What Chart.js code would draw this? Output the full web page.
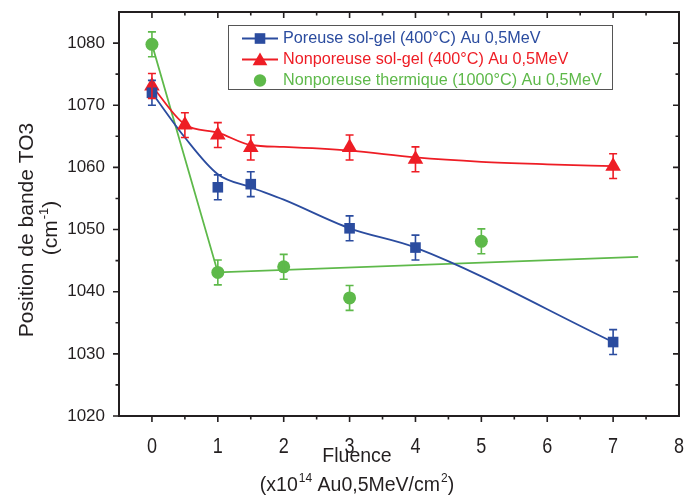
<!DOCTYPE html>
<html><head><meta charset="utf-8">
<script src="https://cdn.jsdelivr.net/npm/chart.js@4/dist/chart.umd.min.js"></script>
<style>html,body{margin:0;padding:0;background:#fff}#wrap{width:684px;height:496px;position:relative}</style>
</head><body><div id="wrap"><canvas id="c" width="684" height="496"></canvas></div>
<script>
// ---- data ----
const fluenceBlue = [0, 1, 1.5, 3, 4, 7];
const posBlue     = [1072, 1056.8, 1057.3, 1050.2, 1047.1, 1031.9];
const errBlue     = [2, 2, 2, 2, 2, 2];
const fluenceRed  = [0, 0.5, 1, 1.5, 3, 4, 7];
const posRed      = [1073.1, 1066.8, 1065.2, 1063.2, 1063.2, 1061.3, 1060.2];
const errRed      = [2, 2, 2, 2, 2, 2, 2];
const fluenceGreen = [0, 1, 2, 3, 5];
const posGreen     = [1079.8, 1043.1, 1044, 1039, 1048.1];
const errGreen     = [2, 2, 2, 2, 2];
// fitted curves as drawn in the reference
const fitBlueX = [0, 0.5, 1, 1.5, 2, 3, 4, 7];
const fitBlueY = [1072, 1064.8, 1058.9, 1056.8, 1054.8, 1050.2, 1047.1, 1031.9];
const fitRedX  = [0, 0.5, 1, 1.5, 2, 3, 4, 5, 6, 7];
const fitRedY  = [1073.1, 1066.9, 1065.6, 1063.6, 1063.3, 1062.7, 1061.6, 1060.9, 1060.5, 1060.2];
const fitGreenX = [0, 1, 7.38];
const fitGreenY = [1079.8, 1043.1, 1045.6];
const xTicks = [0, 1, 2, 3, 4, 5, 6, 7, 8];
const yTicks = [1020, 1030, 1040, 1050, 1060, 1070, 1080];
const seriesNames = ['Poreuse sol-gel (400°C) Au 0,5MeV', 'Nonporeuse sol-gel (400°C) Au 0,5MeV', 'Nonporeuse thermique (1000°C) Au 0,5MeV'];

const BLUE = '#2b4c9f', RED = '#ee1d25', GREEN = '#5eb94a', INK = '#231f20';
const FONT = '"Liberation Sans", Arial, sans-serif';
const pts = (xs, ys) => xs.map((x, i) => ({x, y: ys[i]}));

const errorBars = {
  id: 'errorBars',
  afterDatasetsDraw(chart) {
    const {ctx, scales: {x, y}} = chart;
    chart.data.datasets.forEach((ds) => {
      if (!ds.errors) return;
      ctx.save();
      ctx.strokeStyle = ds.borderColor; ctx.lineWidth = 1.6;
      ds.data.forEach((p, j) => {
        const px = x.getPixelForValue(p.x);
        const t = y.getPixelForValue(p.y + ds.errors[j]);
        const b = y.getPixelForValue(p.y - ds.errors[j]);
        ctx.beginPath();
        ctx.moveTo(px, t); ctx.lineTo(px, b);
        ctx.moveTo(px - 4, t); ctx.lineTo(px + 4, t);
        ctx.moveTo(px - 4, b); ctx.lineTo(px + 4, b);
        ctx.stroke();
      });
      ctx.restore();
    });
  }
};

const frame = {
  id: 'frame',
  afterDatasetsDraw(chart) {
    const {ctx, chartArea: a, scales: {x, y}} = chart;
    ctx.save();
    ctx.strokeStyle = INK; ctx.lineWidth = 2;
    ctx.strokeRect(a.left, a.top, a.right - a.left, a.bottom - a.top);
    ctx.lineWidth = 1.6;
    ctx.beginPath();
    const xs = [];
    xTicks.forEach(v => { xs.push([v, 6]); xs.push([v - 0.5, 3.5]); });
    xs.forEach(([v, L]) => {
      const px = x.getPixelForValue(v);
      if (px < a.left + 1 || px > a.right - 1) return;
      ctx.moveTo(px, a.bottom); ctx.lineTo(px, a.bottom + L);
      ctx.moveTo(px, a.top); ctx.lineTo(px, a.top + L);
    });
    const ys = [];
    yTicks.forEach(v => { ys.push([v, 6]); ys.push([v + 5, 3.5]); });
    ys.forEach(([v, L]) => {
      const py = y.getPixelForValue(v);
      if (py < a.top + 1 || py > a.bottom + 1) return;
      ctx.moveTo(a.left, py); ctx.lineTo(a.left - L, py);
      ctx.moveTo(a.right, py); ctx.lineTo(a.right - L, py);
    });
    ctx.stroke();
    // x tick labels (condensed, like the reference)
    ctx.fillStyle = INK;
    ctx.font = '22px ' + FONT;
    ctx.textAlign = 'center'; ctx.textBaseline = 'alphabetic';
    xTicks.forEach(v => {
      const px = x.getPixelForValue(v);
      ctx.save();
      ctx.translate(px, a.bottom + 37);
      ctx.scale(0.82, 1);
      ctx.fillText(String(v), 0, 0);
      ctx.restore();
    });
    ctx.restore();
  }
};

function supText(ctx, parts, cx, baseline, size) {
  const big = size + 'px ' + FONT;
  const small = Math.round(size * 0.62) + 'px ' + FONT;
  let w = 0;
  parts.forEach(([t, s]) => { ctx.font = s ? small : big; w += ctx.measureText(t).width + (s ? 1 : 0); });
  let xx = cx - w / 2;
  ctx.textAlign = 'left'; ctx.textBaseline = 'alphabetic';
  parts.forEach(([t, s]) => {
    ctx.font = s ? small : big;
    ctx.fillText(t, xx + (s ? 1 : 0), s ? baseline - size * 0.45 : baseline);
    xx += ctx.measureText(t).width + (s ? 1 : 0);
  });
}

const titlesLegend = {
  id: 'titlesLegend',
  afterDraw(chart) {
    const {ctx} = chart;
    ctx.save();
    ctx.fillStyle = INK;
    const xc = 357;
    supText(ctx, [['Fluence', false]], xc, 462, 19.5);
    supText(ctx, [['(x10', false], ['14', true], [' Au0,5MeV/cm', false], ['2', true], [')', false]], xc, 491, 19.5);
    ctx.save();
    ctx.rotate(-Math.PI / 2);
    supText(ctx, [['Position de bande TO3', false]], -230, 33, 21);
    supText(ctx, [['(cm', false], ['-1', true], [')', false]], -228, 57, 21);
    ctx.restore();
    // legend
    const L = 228, T = 25, R = 612, B = 89;
    ctx.strokeStyle = '#555'; ctx.lineWidth = 1;
    ctx.strokeRect(L + 0.5, T + 0.5, R - L, B - T);
    const rows = [[BLUE, 'rect', true, 38.5], [RED, 'triangle', true, 59.5], [GREEN, 'circle', false, 80.5]];
    rows.forEach(([c, style, line, yy], i) => {
      ctx.strokeStyle = c; ctx.fillStyle = c; ctx.lineWidth = 1.8;
      if (line) { ctx.beginPath(); ctx.moveTo(242, yy); ctx.lineTo(278, yy); ctx.stroke(); }
      Chart.helpers.drawPoint(ctx, {pointStyle: style, radius: style === 'triangle' ? 8.5 : (style === 'rect' ? 7.5 : 6.2), borderWidth: 0}, 260, yy + (style === 'triangle' ? 1.5 : 0));
      ctx.fillStyle = c;
      ctx.font = '16.2px ' + FONT;
      ctx.textAlign = 'left'; ctx.textBaseline = 'middle';
      ctx.fillText(seriesNames[i], 283, yy);
    });
    ctx.restore();
  }
};

new Chart(document.getElementById('c'), {
  type: 'line',
  data: {
    datasets: [
      {label: 'fitBlue', data: pts(fitBlueX, fitBlueY), borderColor: BLUE, borderWidth: 1.8, pointRadius: 0, cubicInterpolationMode: 'monotone', fill: false, order: 5},
      {label: 'fitRed', data: pts(fitRedX, fitRedY), borderColor: RED, borderWidth: 1.8, pointRadius: 0, cubicInterpolationMode: 'monotone', fill: false, order: 5},
      {label: 'fitGreen', data: pts(fitGreenX, fitGreenY), borderColor: GREEN, borderWidth: 1.8, pointRadius: 0, tension: 0, fill: false, order: 5},
      {label: seriesNames[0], data: pts(fluenceBlue, posBlue), errors: errBlue, showLine: false, borderColor: BLUE, backgroundColor: BLUE, pointStyle: 'rect', pointRadius: 7.5, pointBorderWidth: 0, order: 1},
      {label: seriesNames[1], data: pts(fluenceRed, posRed), errors: errRed, showLine: false, borderColor: RED, backgroundColor: RED, pointStyle: 'triangle', pointRadius: 9, pointBorderWidth: 0, order: 1},
      {label: seriesNames[2], data: pts(fluenceGreen, posGreen), errors: errGreen, showLine: false, borderColor: GREEN, backgroundColor: GREEN, pointStyle: 'circle', pointRadius: 6.5, pointBorderWidth: 0, order: 1}
    ]
  },
  options: {
    responsive: false, animation: false, devicePixelRatio: 1,
    layout: {autoPadding: false, padding: {left: 0, top: 12, right: 5, bottom: 0}},
    plugins: {legend: {display: false}, tooltip: {enabled: false}},
    scales: {
      x: {
        type: 'linear', min: -0.5, max: 8,
        grid: {display: false, drawTicks: false}, border: {display: false},
        afterBuildTicks: s => { s.ticks = xTicks.map(v => ({value: v})); },
        afterFit: s => { s.height = 80; s.paddingLeft = 0; s.paddingRight = 0; },
        ticks: {display: false}
      },
      y: {
        type: 'linear', min: 1020, max: 1085,
        grid: {display: false, drawTicks: false}, border: {display: false},
        afterBuildTicks: s => { s.ticks = yTicks.map(v => ({value: v})); },
        afterFit: s => { s.width = 119; s.paddingTop = 0; s.paddingBottom = 0; },
        ticks: {padding: 14, color: INK, font: {family: '"Liberation Sans", Arial', size: 17}, callback: v => String(v)}
      }
    }
  },
  plugins: [errorBars, frame, titlesLegend]
});
</script></body></html>
